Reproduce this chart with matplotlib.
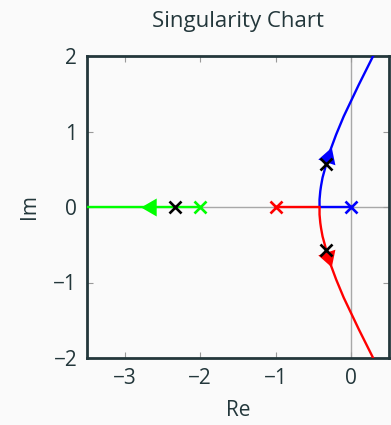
import matplotlib.pyplot as plt
import matplotlib

matplotlib.rcParams['font.family'] = ['Open Sans', 'DejaVu Sans']

# ----------------------------
# data
# ----------------------------
# open-loop poles
pole_re = [0.0, -1.0, -2.0]
pole_colors = ["blue", "red", "lime"]

# closed-loop poles for the chosen gain
cl_re = [-2.33, -0.34, -0.34]
cl_im = [0.0, 0.57, -0.57]

# blue branch: pole 0 -> breakaway -> upwards
blue_re = [0.0, -0.42, -0.42, -0.41, -0.40, -0.38, -0.35, -0.30, -0.20, -0.10, 0.0, 0.10, 0.20, 0.30]
blue_im = [0.0, 0.0, 0.10, 0.21, 0.28, 0.39, 0.50, 0.69, 0.96, 1.20, 1.41, 1.62, 1.82, 2.02]

# red branch: pole -1 -> breakaway -> downwards
red_re = [-1.0, -0.42, -0.42, -0.41, -0.40, -0.38, -0.35, -0.30, -0.20, -0.10, 0.0, 0.10, 0.20, 0.30]
red_im = [0.0, 0.0, -0.10, -0.21, -0.28, -0.39, -0.50, -0.69, -0.96, -1.20, -1.41, -1.62, -1.82, -2.02]

# green branch: pole -2 -> left along the real axis
green_re = [-2.0, -3.6]
green_im = [0.0, 0.0]

# direction arrows on each branch (position + heading in degrees)
arrow_re = [-2.65, -0.305, -0.305]
arrow_im = [0.0, 0.66, -0.66]
arrow_heading = [180, 71.6, -71.6]
arrow_colors = ["lime", "blue", "red"]

TEXT = "#23373B"

# ----------------------------
# figure
# ----------------------------
fig = plt.figure(figsize=(3.91, 4.25), dpi=100, facecolor="#FAFAFA")
ax = fig.add_axes([87 / 391, 1 - 358 / 425, 302 / 391, 302 / 425])
ax.set_facecolor("#FAFAFA")

# axis lines through origin
ax.axhline(0, color="#A8A8A8", lw=1.0, zorder=1)
ax.axvline(0, color="#A8A8A8", lw=1.0, zorder=1)

ax.plot(blue_re, blue_im, color="blue", lw=1.7, zorder=3)
ax.plot(red_re, red_im, color="red", lw=1.7, zorder=3)
ax.plot(green_re, green_im, color="lime", lw=1.7, zorder=3)

# triangle marker points up by default -> rotate to the heading
for x, y, h, c in zip(arrow_re, arrow_im, arrow_heading, arrow_colors):
    ax.plot(x, y, marker=(3, 0, h - 90), color=c, ms=15, mew=0, zorder=4)

for x, c in zip(pole_re, pole_colors):
    ax.plot(x, 0, marker="x", color=c, ms=8.5, mew=1.9, zorder=5)
ax.plot(cl_re, cl_im, "x", color="black", ms=8.5, mew=1.9, zorder=6, linestyle="none")

ax.set_xlim(-3.5, 0.5)
ax.set_ylim(-2, 2)
ax.set_xticks([-3, -2, -1, 0])
ax.set_yticks([-2, -1, 0, 1, 2])
ax.set_xticklabels(["\u22123", "\u22122", "\u22121", "0"])
ax.set_yticklabels(["\u22122", "\u22121", "0", "1", "2"])
ax.tick_params(direction="in", length=4.5, width=0.8, color="#999999",
               top=True, right=True, labelsize=15, labelcolor=TEXT, pad=7)

for s in ax.spines.values():
    s.set_color(TEXT)
    s.set_linewidth(2)

ax.set_xlabel("Re", fontsize=15, color=TEXT, labelpad=8)
ax.set_ylabel("Im", fontsize=15, color=TEXT, labelpad=10)
ax.set_title("Singularity Chart", fontsize=16, color=TEXT, pad=21)

fig.savefig("out.png", dpi=100, facecolor=fig.get_facecolor())
